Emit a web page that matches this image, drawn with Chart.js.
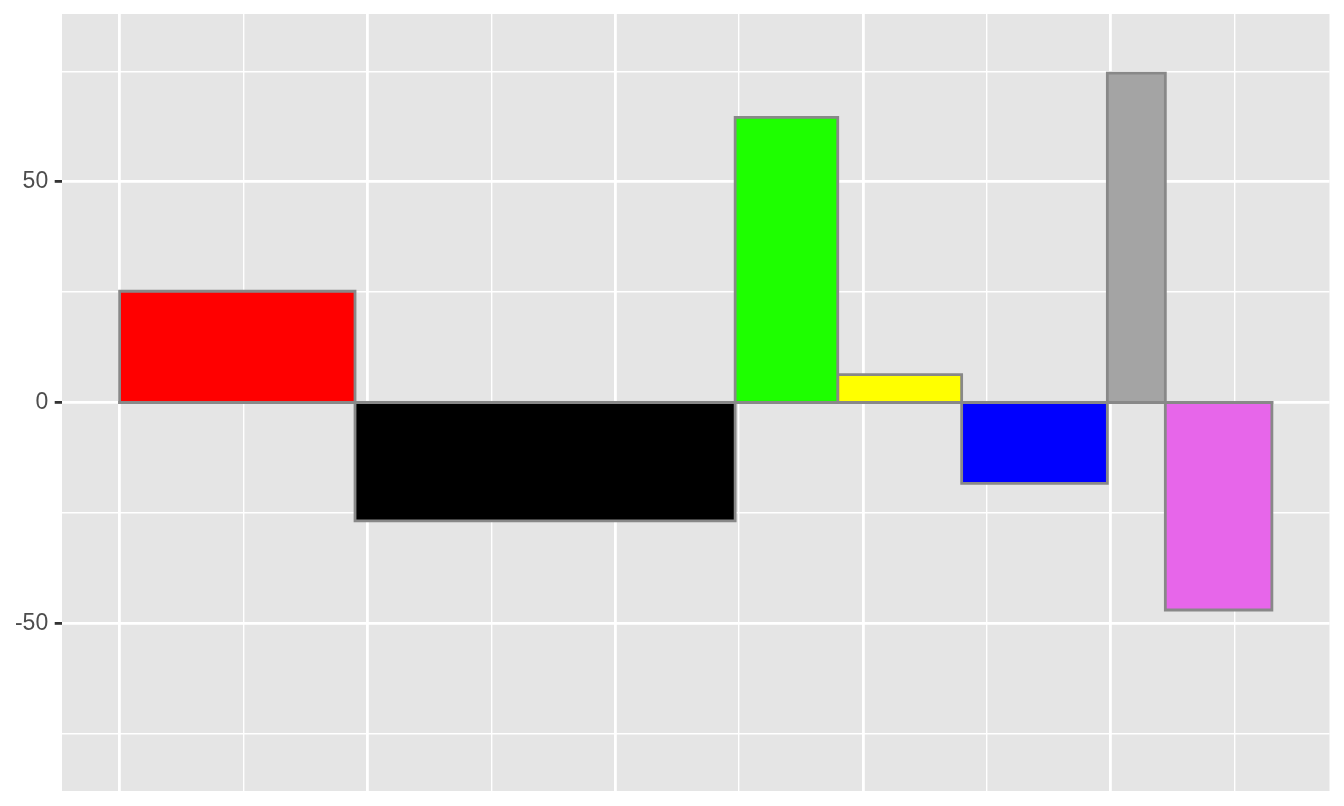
<!DOCTYPE html>
<html>
<head>
<meta charset="utf-8">
<script src="https://cdn.jsdelivr.net/npm/chart.js@4/dist/chart.umd.min.js"></script>
<style>
  html, body { margin: 0; padding: 0; background: #ffffff; }
  #wrap { width: 1344px; height: 806px; }
</style>
</head>
<body>
<div id="wrap"><canvas id="chart"></canvas></div>
<script>
// bar edges along x (cumulative), one more than bars
var xEdges = [0, 47.5, 124.2, 144.9, 169.9, 199.3, 211.0, 232.5];
// bar heights
var heights = [25.2, -26.8, 64.6, 6.3, -18.3, 74.6, -47.0];
var fills = ['#ff0000', '#000000', '#1eff00', '#ffff00', '#0000ff', '#a4a4a4', '#e766ea'];
var yTickValues = [-75, -50, -25, 0, 25, 50, 75];
var xTickValues = [0, 25, 50, 75, 100, 125, 150, 175, 200, 225];
var yLimits = [-80, 80];

var edgeColor = '#888888';
var edgeWidth = 2.8;

// ggplot-style 5% expansion
var xSpan = xEdges[xEdges.length - 1] - xEdges[0];
var xMin = xEdges[0] - xSpan * 0.05;
var xMax = xEdges[xEdges.length - 1] + xSpan * 0.05;
var ySpan = yLimits[1] - yLimits[0];
var yMin = yLimits[0] - ySpan * 0.05;
var yMax = yLimits[1] + ySpan * 0.05;

// each bar is an outline filled to zero
var datasets = heights.map(function (h, i) {
    var x0 = xEdges[i], x1 = xEdges[i + 1];
    return {
        data: [{ x: x0, y: 0 }, { x: x0, y: h }, { x: x1, y: h }, { x: x1, y: 0 }],
        showLine: true,
        fill: 'origin',
        backgroundColor: fills[i],
        borderColor: edgeColor,
        borderWidth: edgeWidth,
        borderJoinStyle: 'miter',
        borderCapStyle: 'square',
        pointRadius: 0,
        tension: 0
    };
});

// shared bottom edge of the bars along zero
datasets.unshift({
    data: [{ x: xEdges[0], y: 0 }, { x: xEdges[xEdges.length - 1], y: 0 }],
    showLine: true,
    fill: false,
    borderColor: edgeColor,
    borderWidth: edgeWidth,
    borderCapStyle: 'square',
    pointRadius: 0
});

var panelBackground = {
    id: 'panelBackground',
    beforeDraw: function (chart) {
        var ctx = chart.ctx, a = chart.chartArea;
        ctx.save();
        ctx.fillStyle = '#ffffff';
        ctx.fillRect(0, 0, chart.width, chart.height);
        ctx.fillStyle = '#e5e5e5';
        ctx.fillRect(a.left, a.top, a.right - a.left, a.bottom - a.top);
        ctx.restore();
    }
};

function isMajor(v) { return Math.abs(v % 50) < 1e-9; }

new Chart(document.getElementById('chart'), {
    type: 'scatter',
    data: { datasets: datasets },
    plugins: [panelBackground],
    options: {
        responsive: true,
        maintainAspectRatio: false,
        animation: false,
        layout: { padding: { left: 0, top: 14, right: 14.5, bottom: 0 } },
        plugins: {
            legend: { display: false },
            tooltip: { enabled: false }
        },
        scales: {
            x: {
                type: 'linear',
                min: xMin,
                max: xMax,
                afterBuildTicks: function (scale) {
                    scale.ticks = xTickValues.map(function (v) { return { value: v }; });
                },
                afterFit: function (scale) {
                    scale.height = 15;
                    scale.paddingLeft = 0;
                    scale.paddingRight = 0;
                },
                border: { display: false },
                ticks: { display: false },
                grid: {
                    drawTicks: false,
                    color: '#ffffff',
                    lineWidth: function (c) { return isMajor(c.tick.value) ? 2.8 : 1.4; }
                }
            },
            y: {
                type: 'linear',
                min: yMin,
                max: yMax,
                afterBuildTicks: function (scale) {
                    scale.ticks = yTickValues.map(function (v) { return { value: v }; });
                },
                afterFit: function (scale) {
                    scale.width = 62;
                    scale.paddingTop = 0;
                    scale.paddingBottom = 0;
                },
                border: { display: false },
                ticks: {
                    padding: 6.5,
                    color: '#4d4d4d',
                    font: { family: 'Liberation Sans', size: 23 },
                    callback: function (v) { return isMajor(v) ? String(v) : ''; }
                },
                grid: {
                    color: '#ffffff',
                    lineWidth: function (c) { return isMajor(c.tick.value) ? 2.8 : 1.4; },
                    tickLength: 7.3,
                    tickWidth: 2.8,
                    tickColor: function (c) { return isMajor(c.tick.value) ? '#333333' : 'rgba(0,0,0,0)'; }
                }
            }
        }
    }
});
</script>
</body>
</html>
